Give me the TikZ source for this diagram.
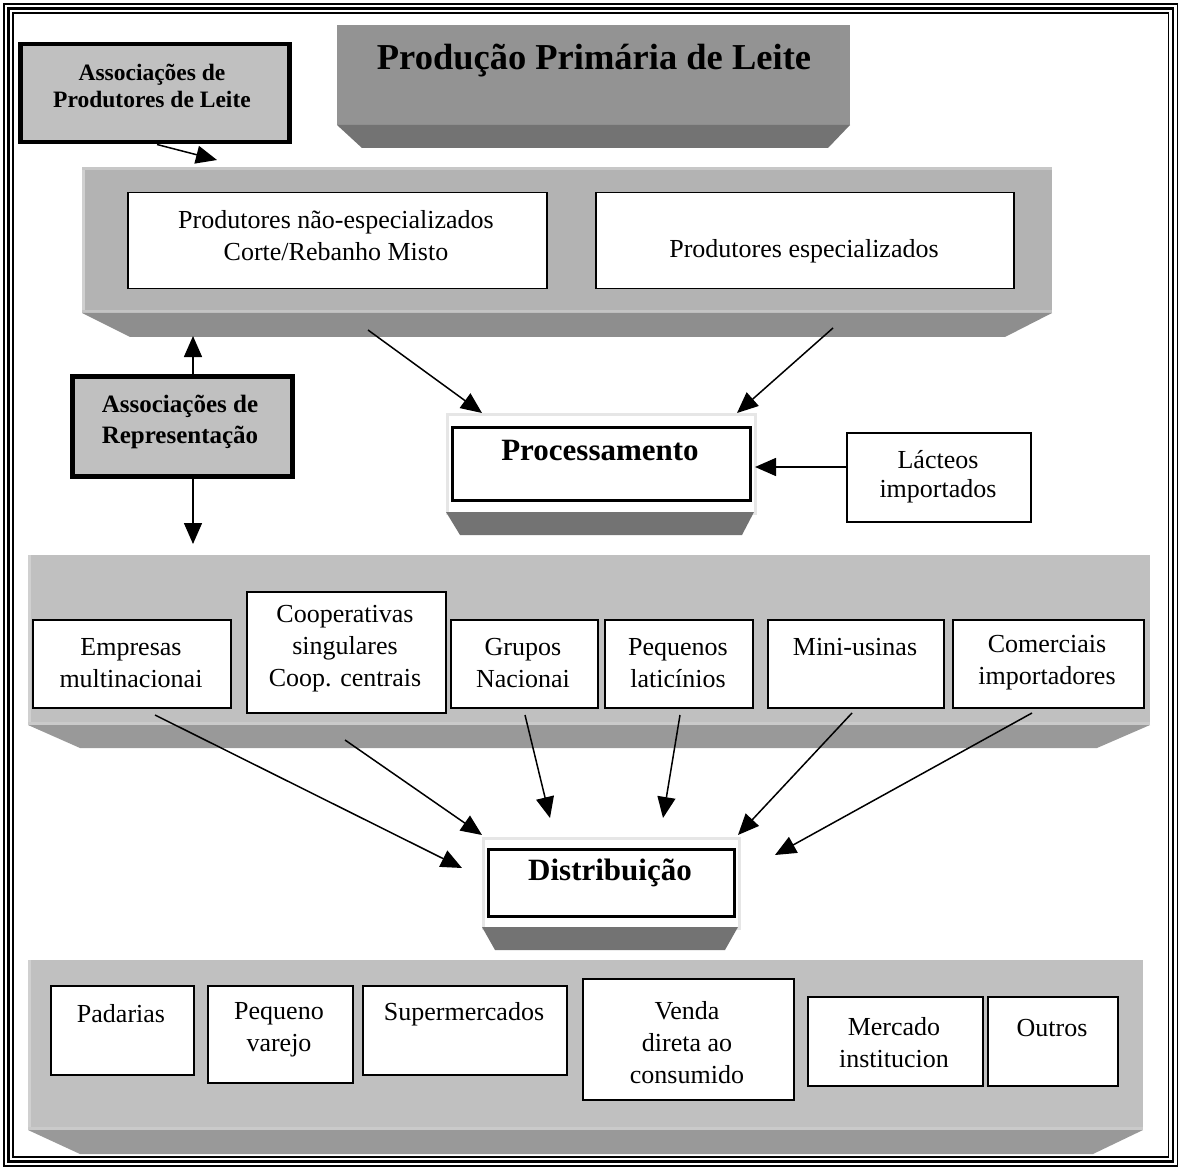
\documentclass[tikz,border=0pt]{standalone}
\usepackage{fontspec}
\setmainfont{Liberation Serif}
\usetikzlibrary{arrows.meta}
\definecolor{titlefront}{HTML}{939393}
\definecolor{titlebevel}{HTML}{737373}
\definecolor{bandAfront}{HTML}{B3B3B3}
\definecolor{bandAbevel}{HTML}{8E8E8E}
\definecolor{bandfront}{HTML}{C0C0C0}
\definecolor{bandbevel}{HTML}{999999}
\definecolor{hilite}{HTML}{D0D0D0}
\definecolor{procedge}{HTML}{E6E6E6}
\definecolor{assocfill}{HTML}{C0C0C0}
\tikzset{
  wbox/.style={draw=black, line width=1.5pt, fill=white, inner sep=0pt, anchor=north west},
  gbox/.style={draw=black, line width=4.5pt, fill=assocfill, inner sep=0pt, anchor=north west},
  pbox/.style={draw=procedge, line width=3pt, fill=white, inner sep=0pt, anchor=north west},
  ibox/.style={draw=black, line width=2.6pt, fill=white, inner sep=0pt, anchor=north west},
  txt/.style={font=\fontsize{26}{32}\selectfont, align=center, inner sep=0pt},
  arr/.style={line width=1.5pt, -{Triangle[length=21pt,width=18pt]}},
}
\begin{document}
\begin{tikzpicture}[x=1pt,y=-1pt]
\useasboundingbox (0,0) rectangle (1179,1169);
\fill[white] (0,0) rectangle (1179,1169);
% frame
\draw[line width=1.2pt] (4,4) rectangle (1177.5,1166);
\draw[line width=2.8pt] (8.5,8.5) rectangle (1173,1161.5);
\draw[line width=1.2pt] (13,13) rectangle (1168.5,1157);

% title block
\fill[titlefront] (337,25) rectangle (850,125);
\fill[titlebevel] (337,125) -- (850,125) -- (828,148) -- (362,148) -- cycle;
\node[font=\bfseries\fontsize{36.5}{40}\selectfont, inner sep=0pt] (title) at (594,61) {Produção Primária de Leite};

% band 1
\fill[bandAfront] (82,167) rectangle (1052,313);
\fill[hilite] (82,167) rectangle (85,313);
\fill[hilite!70!bandAfront] (82,167) rectangle (1052,170);
\fill[hilite!60!bandAfront] (82,310) rectangle (1052,313);
\fill[bandAbevel] (82,313) -- (1052,313) -- (1005,337) -- (130,337) -- cycle;

% band 2
\fill[bandfront] (28,555) rectangle (1150,725);
\fill[hilite] (28,555) rectangle (31,725);
\fill[hilite!60!bandfront] (28,722) rectangle (1150,725);
\fill[bandbevel] (28,725) -- (1150,725) -- (1097,748) -- (80,748) -- cycle;

% band 3
\fill[bandfront] (28,960) rectangle (1143,1130);
\fill[hilite] (28,960) rectangle (31,1130);
\fill[hilite!60!bandfront] (28,1127) rectangle (1143,1130);
\fill[bandbevel] (28,1130) -- (1143,1130) -- (1093,1154) -- (80,1154) -- cycle;

% association boxes
\node[gbox, minimum width=269, minimum height=98] (aprod) at (18,42) {};
\node[font=\bfseries\fontsize{23.5}{27}\selectfont, align=center, inner sep=0pt] (aprodt) at (152,86) {Associações de\\Produtores de Leite};
\node[gbox, minimum width=220, minimum height=100] (arep) at (70,374) {};
\node[font=\bfseries\fontsize{25}{31}\selectfont, align=center, inner sep=0pt] (arept) at (180,422) {Associações de\\Representação};

% band 1 boxes
\node[wbox, minimum width=419, minimum height=96] (pne) at (127,192) {};
\node[txt] (pnet) at (336,236) {Produtores não-especializados\\Corte/Rebanho Misto};
\node[wbox, minimum width=418, minimum height=96] (pes) at (595,192) {};
\node[txt] (pest) at (804,251) {Produtores especializados};

% processamento
\node[pbox, minimum width=308, minimum height=99] (proc) at (446,413) {};
\fill[titlebevel] (446,512) -- (754,512) -- (742,535) -- (460,535) -- cycle;
\node[ibox, minimum width=298, minimum height=73] (proci) at (451,426) {};
\node[font=\bfseries\fontsize{31}{36}\selectfont, inner sep=0pt] (proct) at (600,451) {Processamento};

% lacteos
\node[wbox, minimum width=184, minimum height=89] (lact) at (846,432) {};
\node[txt, font=\fontsize{26}{29}\selectfont] (lactt) at (938,477) {Lácteos\\importados};

% band 2 boxes
\node[wbox, minimum width=198, minimum height=88] (emp) at (32,619) {};
\node[txt] (empt) at (131,663) {Empresas\\multinacionai};
\node[wbox, minimum width=199, minimum height=121] (coop) at (246,591) {};
\node[txt] (coopt) at (345,649) {Cooperativas\\singulares\\Coop. centrais};
\node[wbox, minimum width=147, minimum height=88] (grp) at (450,619) {};
\node[txt] (grpt) at (523,663) {Grupos\\Nacionai};
\node[wbox, minimum width=148, minimum height=88] (peq) at (604,619) {};
\node[txt] (peqt) at (678,663) {Pequenos\\laticínios};
\node[wbox, minimum width=176, minimum height=88] (mini) at (767,619) {};
\node[txt] (minit) at (855,647) {Mini-usinas};
\node[wbox, minimum width=191, minimum height=88] (com) at (952,619) {};
\node[txt] (comt) at (1047,663) {Comerciais\\importadores};

% distribuicao
\node[pbox, minimum width=256, minimum height=90] (dist) at (482,837) {};
\fill[titlebevel] (482,927) -- (738,927) -- (725,950) -- (495,950) -- cycle;
\node[ibox, minimum width=246, minimum height=67] (disti) at (487,848) {};
\node[font=\bfseries\fontsize{31}{36}\selectfont, inner sep=0pt] (distt) at (610,873) {Distribuição};

% band 3 boxes
\node[wbox, minimum width=143, minimum height=89] (pad) at (50,985) {};
\node[txt] (padt) at (121,1014) {Padarias};
\node[wbox, minimum width=145, minimum height=97] (pv) at (207,985) {};
\node[txt] (pvt) at (279,1030) {Pequeno\\varejo};
\node[wbox, minimum width=204, minimum height=89] (sup) at (362,985) {};
\node[txt] (supt) at (464,1014) {Supermercados};
\node[wbox, minimum width=211, minimum height=121] (vd) at (582,978) {};
\node[txt] (vdt) at (687,1043) {Venda\\direta ao\\consumido};
\node[wbox, minimum width=175, minimum height=89] (mi) at (807,996) {};
\node[txt] (mit) at (894,1043) {Mercado\\institucion};
\node[wbox, minimum width=130, minimum height=89] (out) at (987,996) {};
\node[txt] (outt) at (1052,1028) {Outros};

% connector ends
\coordinate (b1top) at (217,160);
\coordinate (b1bot) at (193,336);
\coordinate (b2top) at (193,544);
\coordinate (b1l) at (368,330);
\coordinate (b1r) at (833,328);
\coordinate (pl) at (482,413);
\coordinate (pr) at (737,413);
\coordinate (pe) at (755,467);
\coordinate (e1) at (155,715);
\coordinate (e2) at (345,740);
\coordinate (e3) at (525,715);
\coordinate (e4) at (680,715);
\coordinate (e5) at (852,713);
\coordinate (e6) at (1032,713);
\coordinate (d1) at (462,868);
\coordinate (d2) at (482,835);
\coordinate (d3) at (550,818);
\coordinate (d4) at (663,818);
\coordinate (d5) at (738,835);
\coordinate (d6) at (775,855);

\draw[arr] (aprod.south -| 157,0) -- (b1top);
\draw[arr] (arep.north -| b1bot) -- (b1bot);
\draw[arr] (arep.south -| b2top) -- (b2top);
\draw[arr] (b1l) -- (pl);
\draw[arr] (b1r) -- (pr);
\draw[arr] (lact.west |- pe) -- (pe);
\draw[arr] (e1) -- (d1);
\draw[arr] (e2) -- (d2);
\draw[arr] (e3) -- (d3);
\draw[arr] (e4) -- (d4);
\draw[arr] (e5) -- (d5);
\draw[arr] (e6) -- (d6);
\end{tikzpicture}
\end{document}
